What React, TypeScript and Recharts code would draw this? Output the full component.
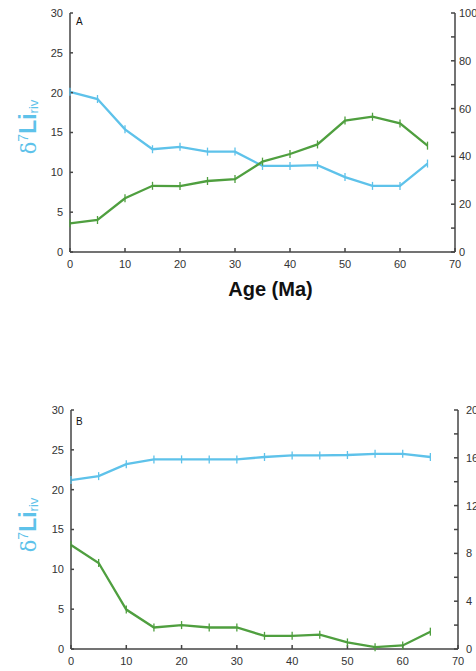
import { LineChart, Line, XAxis, YAxis } from "recharts";

// ages of the samples (Ma)
const ages = [0, 5, 10, 15, 20, 25, 30, 35, 40, 45, 50, 55, 60, 65];

// panel A
const liRivA = [20.1, 19.2, 15.4, 12.9, 13.2, 12.6, 12.6, 10.8, 10.8, 10.9, 9.4, 8.3, 8.3, 11.1];
const fluxA = [12, 13.4, 22.5, 27.7, 27.6, 29.7, 30.5, 37.8, 41, 45, 55, 56.6, 53.8, 44.5];

// panel B
const liRivB = [21.2, 21.7, 23.2, 23.8, 23.8, 23.8, 23.8, 24.1, 24.3, 24.3, 24.35, 24.5, 24.5, 24.1];
const fluxB = [8.7, 7.2, 3.3, 1.8, 2.0, 1.8, 1.8, 1.1, 1.1, 1.2, 0.55, 0.15, 0.3, 1.45];

const ageTicks = [0, 10, 20, 30, 40, 50, 60, 70];
const leftTicks = [0, 5, 10, 15, 20, 25, 30];
const rightTicksA = [0, 10, 20, 30, 40, 50, 60, 70, 80, 90, 100];
const rightTicksB = [0, 2, 4, 6, 8, 10, 12, 14, 16, 18, 20];

const BLUE = "#5ec2ea";
const GREEN = "#4f9f3f";
const AXIS = "#444";
const FONT = "'Liberation Sans', Arial, sans-serif";

const buildRows = (li: number[], flux: number[]) =>
  ages.map((age, i) => ({ age, li: li[i], flux: flux[i] }));

const dataA = buildRows(liRivA, fluxA);
const dataB = buildRows(liRivB, fluxB);

// short vertical bar at every sample
const ErrTick = (color: string) => (props: any) => {
  const { cx, cy, index } = props;
  if (cx == null || cy == null) return <g key={index} />;
  return <line key={index} x1={cx} x2={cx} y1={cy - 4} y2={cy + 4} stroke={color} strokeWidth={1.3} />;
};

const YLabel = ({ cy }: { cy: number }) => (
  <text
    transform={`translate(36, ${cy}) rotate(-90)`}
    textAnchor="middle"
    fill={BLUE}
    fontFamily={FONT}
  >
    <tspan fontFamily="'DejaVu Serif', serif" fontSize={21}>δ</tspan>
    <tspan fontSize={14} dy={-8}>7</tspan>
    <tspan fontSize={23} fontWeight="bold" dy={8}>Li</tspan>
    <tspan fontSize={13} dy={2}>riv</tspan>
  </text>
);

const tickStyle = { fontSize: 11, fill: "#333", fontFamily: FONT };

interface PanelProps {
  data: { age: number; li: number; flux: number }[];
  rightMax: number;
  rightTicks: number[];
  rightLabelStep: number;
  rightWidth: number;
  rightGap: number;
  leftWidth: number;
  height: number;
  bottomHeight: number;
  top: number;
  ageTitle: boolean;
}

const Panel = ({
  data,
  rightMax,
  rightTicks,
  rightLabelStep,
  rightWidth,
  rightGap,
  leftWidth,
  height,
  bottomHeight,
  top,
  ageTitle,
}: PanelProps) => (
  <LineChart
    width={476}
    height={height}
    data={data}
    margin={{ top, right: 0, bottom: 0, left: 0 }}
  >
    <XAxis
      dataKey="age"
      type="number"
      domain={[0, 70]}
      ticks={ageTicks}
      interval={0}
      height={bottomHeight}
      stroke={AXIS}
      strokeWidth={1.5}
      tickSize={-4}
      tickMargin={12}
      tick={tickStyle}
      label={
        ageTitle
          ? {
              content: (p: any) => {
                const vb = p.viewBox || {};
                return (
                  <text
                    x={vb.x + vb.width / 2 + 8}
                    y={296}
                    textAnchor="middle"
                    fontFamily={FONT}
                    fontWeight="bold"
                    fontSize={20}
                    fill="#111"
                  >
                    Age (Ma)
                  </text>
                );
              },
            }
          : undefined
      }
    />
    <YAxis
      yAxisId="left"
      orientation="left"
      domain={[0, 30]}
      ticks={leftTicks}
      interval={0}
      width={leftWidth}
      stroke={AXIS}
      strokeWidth={1.5}
      tickSize={-3}
      tickMargin={10}
      tick={tickStyle}
    />
    <YAxis
      yAxisId="right"
      orientation="right"
      domain={[0, rightMax]}
      ticks={rightTicks}
      interval={0}
      width={rightWidth}
      stroke={AXIS}
      strokeWidth={1.5}
      tickSize={-4}
      tickMargin={4 + rightGap}
      tick={{ ...tickStyle, textAnchor: "start" }}
      tickFormatter={(v: number) => (v % rightLabelStep === 0 ? String(v) : "")}
    />
    <Line
      yAxisId="left"
      dataKey="li"
      stroke={BLUE}
      strokeWidth={2.3}
      type="linear"
      dot={ErrTick(BLUE)}
      activeDot={false}
      isAnimationActive={false}
    />
    <Line
      yAxisId="right"
      dataKey="flux"
      stroke={GREEN}
      strokeWidth={2.3}
      type="linear"
      dot={ErrTick(GREEN)}
      activeDot={false}
      isAnimationActive={false}
    />
  </LineChart>
);

const panelLetter = (text: string, top: number) => (
  <div
    style={{
      position: "absolute",
      left: 76,
      top,
      fontFamily: FONT,
      fontSize: 10,
      color: "#111",
      lineHeight: "10px",
    }}
  >
    {text}
  </div>
);

export default function App() {
  return (
    <div style={{ position: "absolute", left: 0, top: 0, width: 476, height: 671, overflow: "hidden", background: "#fff" }}>
      <div style={{ position: "absolute", left: 0, top: 0 }}>
        <Panel
          data={dataA}
          rightMax={100}
          rightTicks={rightTicksA}
          rightLabelStep={20}
          rightWidth={21}
          rightGap={4}
          leftWidth={70}
          height={310}
          bottomHeight={58}
          top={13}
          ageTitle
        />
      </div>
      <svg style={{ position: "absolute", left: 0, top: 0 }} width={60} height={300}>
        <YLabel cy={127} />
      </svg>
      {panelLetter("A", 17)}

      <div style={{ position: "absolute", left: 0, top: 400 }}>
        <Panel
          data={dataB}
          rightMax={20}
          rightTicks={rightTicksB}
          rightLabelStep={4}
          rightWidth={18}
          rightGap={8}
          leftWidth={71}
          height={271}
          bottomHeight={22}
          top={10}
          ageTitle={false}
        />
      </div>
      <svg style={{ position: "absolute", left: 0, top: 400 }} width={60} height={271}>
        <YLabel cy={125} />
      </svg>
      {panelLetter("B", 417)}
    </div>
  );
}
